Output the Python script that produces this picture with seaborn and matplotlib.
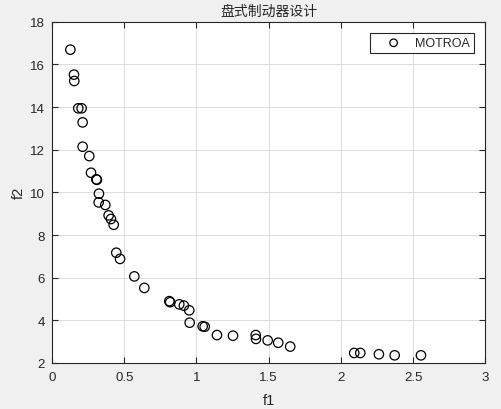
import pandas as pd
import seaborn as sns
import matplotlib.pyplot as plt

# Pareto front values
f1 = [0.127, 0.152, 0.154, 0.182, 0.205, 0.212, 0.212, 0.258, 0.270, 0.307,
      0.311, 0.325, 0.323, 0.369, 0.392, 0.408, 0.427, 0.445, 0.471, 0.570,
      0.639, 0.812, 0.818, 0.881, 0.913, 0.950, 0.953, 1.043, 1.057, 1.142,
      1.253, 1.410, 1.412, 1.493, 1.566, 1.649, 2.092, 2.134, 2.263, 2.372,
      2.554]
f2 = [16.69, 15.52, 15.22, 13.94, 13.94, 13.28, 12.14, 11.70, 10.92, 10.61,
      10.59, 9.94, 9.53, 9.41, 8.92, 8.75, 8.48, 7.17, 6.88, 6.06,
      5.52, 4.90, 4.85, 4.75, 4.69, 4.47, 3.89, 3.72, 3.70, 3.31,
      3.28, 3.31, 3.13, 3.06, 2.95, 2.77, 2.47, 2.47, 2.41, 2.36,
      2.36]
df = pd.DataFrame({'f1': f1, 'f2': f2})

sns.set_style('whitegrid')
plt.rcParams['font.family'] = ['Liberation Sans', 'Noto Sans CJK SC', 'DejaVu Sans']
plt.rcParams['axes.unicode_minus'] = False

fig = plt.figure(figsize=(5.01, 4.10), dpi=100, facecolor='#f0f0f0')
ax = fig.add_axes([0.1038, 0.1122, 0.865, 0.8324])
sns.scatterplot(data=df, x='f1', y='f2', ax=ax, marker='o', s=46,
                facecolor='none', edgecolor='black', linewidth=0.9,
                label='MOTROA')

ax.set_xlim(0, 3)
ax.set_ylim(2, 18)
ax.set_xticks([0, 0.5, 1, 1.5, 2, 2.5, 3])
ax.set_xticklabels(['0', '0.5', '1', '1.5', '2', '2.5', '3'])
ax.set_yticks(range(2, 19, 2))
ax.grid(True, color='#dcdcdc', linewidth=0.7)
ax.tick_params(direction='in', length=4, color='#262626', labelsize=9.5,
               labelcolor='#262626', top=True, right=True, bottom=True, left=True)
ax.tick_params(axis='x', pad=6)
ax.tick_params(axis='y', pad=5)
for sp in ax.spines.values():
    sp.set_color('#262626')
    sp.set_linewidth(0.8)
ax.set_xlabel('f1', fontsize=10.5, color='#262626', labelpad=7)
ax.set_ylabel('f2', fontsize=10.5, color='#262626', labelpad=3)
ax.set_title('盘式制动器设计', fontsize=10, color='#262626', pad=5,
             family=['Noto Sans CJK SC', 'DejaVu Sans'])

leg = ax.legend(loc='upper right', bbox_to_anchor=(0.974, 0.966), fontsize=9,
                frameon=True, fancybox=False, edgecolor='#262626',
                borderpad=0.3, handletextpad=0.15, handlelength=3.2,
                markerscale=0.8, borderaxespad=0)
leg.get_frame().set_linewidth(0.8)
leg.get_frame().set_facecolor('white')
leg.get_frame().set_alpha(1)

fig.savefig('out.png', dpi=100, facecolor=fig.get_facecolor())
